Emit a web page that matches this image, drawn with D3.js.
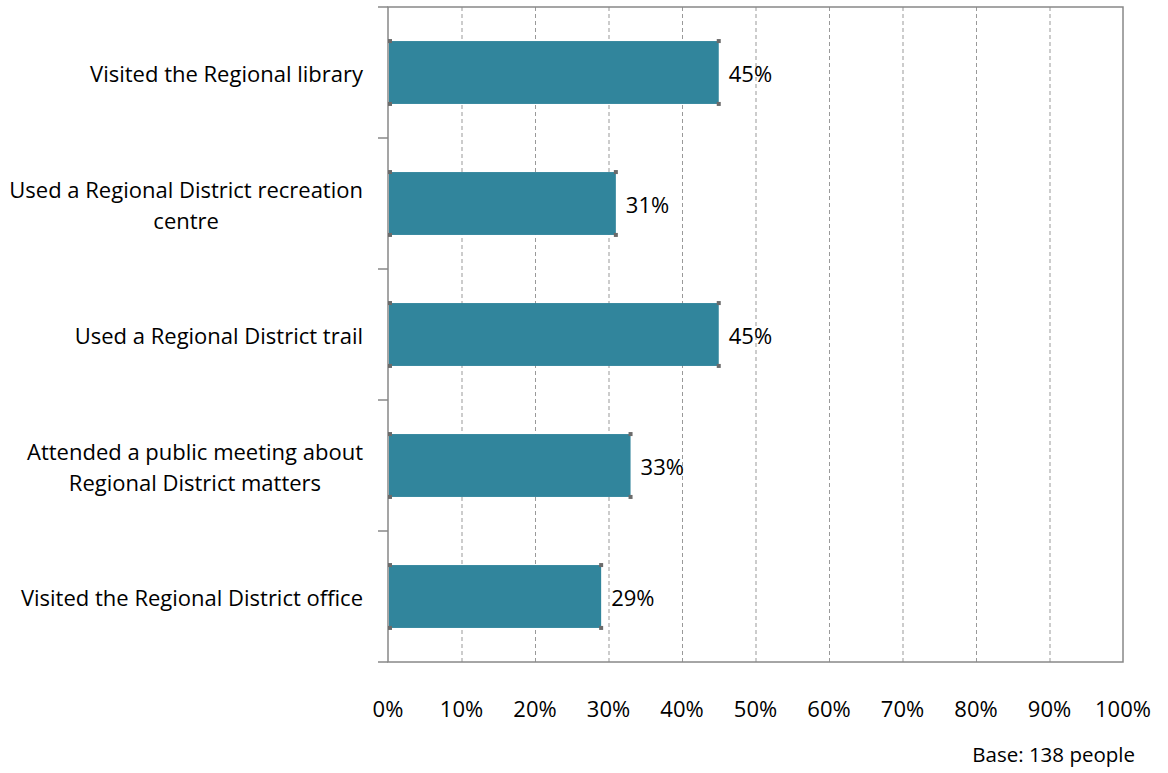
<html>
<head>
  <meta charset="utf-8" />
  <title>Regional District services used</title>
  <script src="https://d3js.org/d3.v7.min.js"></script>
</head>
<style>
  body { margin: 0; background: #fff; }
  svg { font-family: "Open Sans", sans-serif; }
</style>
<body>
<svg class="main" width="1168" height="773"></svg>
<script>

const categories = [
  "Visited the Regional library",
  "Used a Regional District recreation|centre",
  "Used a Regional District trail",
  "Attended a public meeting about|Regional District matters",
  "Visited the Regional District office"
]
const values = [45, 31, 45, 33, 29]
const xTicks = [0, 10, 20, 30, 40, 50, 60, 70, 80, 90, 100]
const baseNote = "Base:  138 people"

const plotLeft = 388, plotRight = 1123, plotTop = 7, plotBottom = 662
const barColor = "#31859c"

const svg = d3.select("svg")

const x = d3.scaleLinear().domain([0, 100]).range([plotLeft, plotRight])
const y = d3.scaleBand().domain(categories).range([plotTop, plotBottom]).paddingInner(0.52).paddingOuter(0.26)
const band = d3.scaleBand().domain(categories).range([plotTop, plotBottom])

// dashed vertical gridlines
svg.append("g")
  .selectAll("line")
  .data(xTicks.slice(1, -1))
  .enter()
  .append("line")
  .attr("x1", d => x(d) + 0.5)
  .attr("x2", d => x(d) + 0.5)
  .attr("y1", plotTop)
  .attr("y2", plotBottom)
  .style("stroke", "#999")
  .style("stroke-width", 1)
  .style("stroke-dasharray", "4,3")

// plot frame
svg.append("rect")
  .attr("x", plotLeft)
  .attr("y", plotTop)
  .attr("width", plotRight - plotLeft)
  .attr("height", plotBottom - plotTop)
  .style("fill", "none")
  .style("stroke", "#888")
  .style("stroke-width", 1.5)

// category tick marks on the left
const bounds = categories.map(c => band(c)).concat([plotBottom])
svg.append("g")
  .selectAll("line")
  .data(bounds)
  .enter()
  .append("line")
  .attr("x1", plotLeft - 10)
  .attr("x2", plotLeft)
  .attr("y1", d => d)
  .attr("y2", d => d)
  .style("stroke", "#888")
  .style("stroke-width", 1.5)

// bars
svg.append("g")
  .selectAll("rect")
  .data(values)
  .enter()
  .append("rect")
  .attr("x", plotLeft + 1)
  .attr("y", (d, i) => y(categories[i]))
  .attr("width", d => x(d) - plotLeft - 1)
  .attr("height", y.bandwidth())
  .style("fill", barColor)

// little grey handles at bar corners
const corners = []
values.forEach((v, i) => {
  const y0 = y(categories[i]), y1 = y0 + y.bandwidth()
  corners.push([plotLeft + 2, y0], [plotLeft + 2, y1], [x(v), y0], [x(v), y1])
})
svg.append("g")
  .selectAll("rect")
  .data(corners)
  .enter()
  .append("rect")
  .attr("x", d => d[0] - 2)
  .attr("y", d => d[1] - 2)
  .attr("width", 4)
  .attr("height", 4)
  .style("fill", "#6b6b6b")

// value labels
svg.append("g")
  .selectAll("text")
  .data(values)
  .enter()
  .append("text")
  .attr("x", d => x(d) + 10)
  .attr("y", (d, i) => y(categories[i]) + y.bandwidth() / 2 + 2)
  .attr("dy", "0.35em")
  .style("font-size", "22px")
  .style("fill", "#000")
  .text(d => d + "%")

// category labels
const labels = svg.append("g")
  .selectAll("text")
  .data(categories)
  .enter()
  .append("text")
  .attr("text-anchor", "middle")
  .style("font-size", "22px")
  .style("fill", "#000")

labels.each(function(d) {
  const lines = d.split("|")
  const cy = band(d) + band.bandwidth() / 2 + 2
  const t = d3.select(this)
  lines.forEach((ln, k) => {
    t.append("tspan")
      .attr("y", cy + (k - (lines.length - 1) / 2) * 31)
      .attr("dy", "0.35em")
      .text(ln)
  })
})
// right-align the block of lines as one piece, centre each line within it
labels.each(function() {
  const t = d3.select(this)
  const w = d3.max(t.selectAll("tspan").nodes(), n => n.getComputedTextLength())
  t.selectAll("tspan").attr("x", 363 - w / 2)
})

// x tick labels
svg.append("g")
  .selectAll("text")
  .data(xTicks)
  .enter()
  .append("text")
  .attr("x", d => x(d))
  .attr("y", 709)
  .attr("dy", "0.35em")
  .attr("text-anchor", "middle")
  .style("font-size", "22px")
  .text(d => d + "%")

svg.append("text")
  .attr("x", 1135)
  .attr("y", 755)
  .attr("dy", "0.35em")
  .attr("text-anchor", "end")
  .style("font-size", "20.5px")
  .text(baseNote)

</script>
</body>
</html>
